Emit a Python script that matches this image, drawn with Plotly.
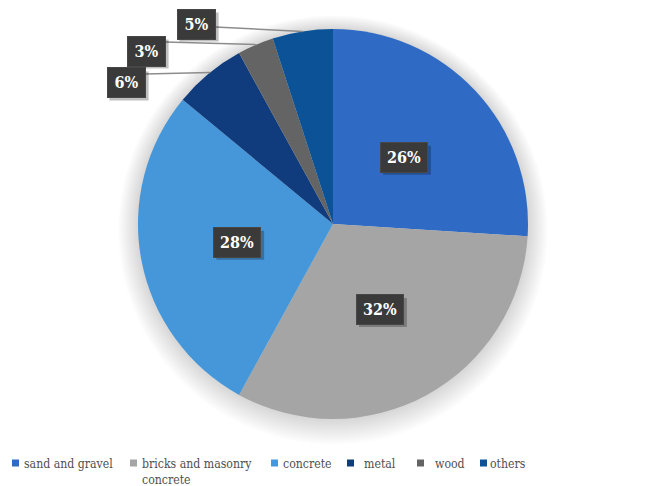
import math
import plotly.graph_objects as go

# Composition of construction waste (share, %)
categories = ["sand and gravel", "bricks and masonry concrete", "concrete", "metal", "wood", "others"]
shares = [26, 32, 28, 6, 3, 5]
legend_texts = ["sand and gravel", "bricks and masonry<br>concrete", "concrete", "metal", "wood", "others"]
colors = ["#2F6BC5", "#A5A5A5", "#4597DA", "#103B7C", "#646464", "#0B5396"]

W, H = 654, 486
CX, CY, R = 333, 224, 195          # pie centre and radius in pixels
SERIF = "DejaVu Serif Condensed, DejaVu Serif"


def px_x(x):
    return x / W


def px_y(y):
    return 1 - y / H


def domain(cx, cy, r):
    return dict(x=[px_x(cx - r), px_x(cx + r)], y=[px_y(cy + r), px_y(cy - r)])


def arc_point(angle_deg, frac):
    a = math.radians(angle_deg)
    return CX + frac * R * math.sin(a), CY - frac * R * math.cos(a)


fig = go.Figure()

# soft glow around the pie
for k in range(1, 21):
    fig.add_trace(go.Pie(
        values=[1], labels=["glow%d" % k], sort=False, showlegend=False,
        marker=dict(colors=["rgba(0,0,0,0.0065)"], line=dict(width=0)),
        textinfo="none", hoverinfo="skip",
        domain=domain(CX, CY + k * 0.3, R + k),
    ))

fig.add_trace(go.Pie(
    labels=categories, values=shares, sort=False, direction="clockwise",
    rotation=0, marker=dict(colors=colors, line=dict(width=0)),
    textinfo="none", hoverinfo="label+percent", showlegend=False,
    domain=domain(CX, CY, R),
))

# slice angles (clockwise from 12 o'clock)
total = sum(shares)
mids = []
acc = 0
for v in shares:
    mids.append((acc + v / 2) / total * 360)
    acc += v

annotations = []
shapes = []


def add_label(text, x, y):
    # drop shadow rectangle, then the dark label box
    half_w = 5 + 4.3 * len(text) + 6
    shapes.append(dict(type="rect", xref="paper", yref="paper", layer="above",
                       x0=px_x(x - half_w + 3), x1=px_x(x + half_w + 3),
                       y0=px_y(y + 14.5 + 3), y1=px_y(y - 14.5 + 3),
                       fillcolor="rgba(0,0,0,0.25)", line=dict(width=0)))
    annotations.append(dict(
        x=px_x(x), y=px_y(y), xref="paper", yref="paper", showarrow=False,
        text="<b>%s</b>" % text, font=dict(family=SERIF, size=16, color="white"),
        bgcolor="#3A3A3A", bordercolor="#474747", borderwidth=1,
        width=2 * half_w - 12, height=19, borderpad=5,
        xanchor="center", yanchor="middle"))


# large slices: labels inside at half radius
for i in range(3):
    lx, ly = arc_point(mids[i], 0.5)
    add_label("%d%%" % shares[i], lx, ly)

# small slices: labels outside with leader lines
outside = {
    3: dict(box=(126, 83), line_y=74, attach=321),
    4: dict(box=(146, 51), line_y=42, attach=337),
    5: dict(box=(196, 24), line_y=27, attach=351),
}
for i, spec in outside.items():
    bx, by = spec["box"]
    ex, ey = arc_point(spec["attach"], 1.0)
    shapes.append(dict(type="line", xref="paper", yref="paper",
                       x0=px_x(bx + 19), y0=px_y(spec["line_y"]),
                       x1=px_x(ex), y1=px_y(ey),
                       line=dict(color="#8C8C8C", width=1.5)))
    add_label("%d%%" % shares[i], bx, by)

# legend row
marker_x = [12, 130, 271, 347, 417, 480]
text_x = [22, 140, 281, 362, 433, 488]
LEG_Y = 463
for i, t in enumerate(legend_texts):
    shapes.append(dict(type="rect", xref="paper", yref="paper",
                       x0=px_x(marker_x[i]), x1=px_x(marker_x[i] + 7),
                       y0=px_y(LEG_Y + 3.5), y1=px_y(LEG_Y - 3.5),
                       fillcolor=colors[i], line=dict(width=0)))
    annotations.append(dict(
        x=px_x(text_x[i]), y=px_y(LEG_Y - 8), xref="paper", yref="paper",
        showarrow=False, text=t, align="left", xanchor="left", yanchor="top",
        font=dict(family=SERIF, size=12.2, color="#505050")))

fig.update_layout(
    width=W, height=H, margin=dict(l=0, r=0, t=0, b=0),
    paper_bgcolor="white", plot_bgcolor="white",
    showlegend=False, annotations=annotations, shapes=shapes,
)

fig.write_html("out.html")
